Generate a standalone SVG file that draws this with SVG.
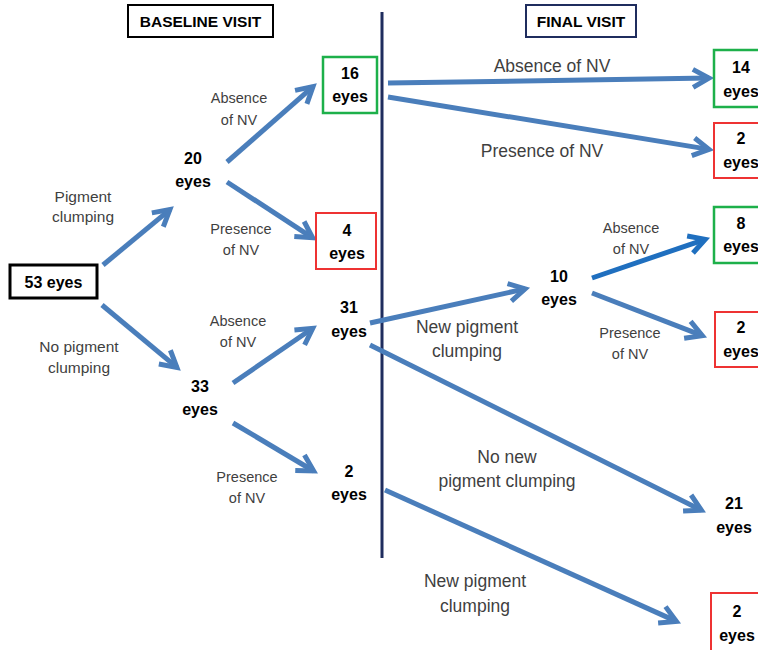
<svg xmlns="http://www.w3.org/2000/svg" width="758" height="650" viewBox="0 0 758 650">
<defs>
<marker id="ah" markerUnits="userSpaceOnUse" markerWidth="40" markerHeight="40" refX="0" refY="0" orient="auto" viewBox="-20 -20 40 40" overflow="visible">
<path d="M-16,-9 L0,0 L-16,9" fill="none" stroke="#4a7ebb" stroke-width="5" stroke-linejoin="miter"/>
</marker>
<marker id="ah2" markerUnits="userSpaceOnUse" markerWidth="40" markerHeight="40" refX="0" refY="0" orient="auto" viewBox="-20 -20 40 40" overflow="visible">
<path d="M-16,-9 L0,0 L-16,9" fill="none" stroke="#1f6fbf" stroke-width="5" stroke-linejoin="miter"/>
</marker>
</defs>
<style>
.a{stroke:#4a7ebb;stroke-width:5;fill:none;marker-end:url(#ah)}
.a2{stroke:#1f6fbf;stroke-width:5;fill:none;marker-end:url(#ah2)}
.n{font-family:"Liberation Sans",Arial,sans-serif;font-weight:bold;font-size:16px;fill:#000;text-anchor:middle}
.h{font-family:"Liberation Sans",Arial,sans-serif;font-weight:bold;font-size:15.5px;fill:#000;text-anchor:middle}
.l{font-family:"Liberation Sans",Arial,sans-serif;font-size:17.5px;fill:#3f3f3f;text-anchor:middle}
.s{font-family:"Liberation Sans",Arial,sans-serif;font-size:14.5px;fill:#3f3f3f;text-anchor:middle}
.m{font-family:"Liberation Sans",Arial,sans-serif;font-size:15.5px;fill:#3f3f3f;text-anchor:middle}
.g{fill:#fff;stroke:#1db04a;stroke-width:2.5}
.r{fill:#fff;stroke:#ee3333;stroke-width:2}
</style>
<rect width="758" height="650" fill="#fff"/>
<line x1="382" y1="12" x2="382" y2="558" stroke="#1f2d5e" stroke-width="3"/>
<g id="baseline-header"><rect x="128" y="5" width="145" height="32" fill="#fff" stroke="#000" stroke-width="2"/><text class="h" x="200.5" y="27">BASELINE VISIT</text></g>
<g id="final-header"><rect x="526" y="5" width="110" height="32" fill="#fff" stroke="#1f2d5e" stroke-width="2"/><text class="h" x="581" y="27">FINAL VISIT</text></g>
<g id="connectors">
<line class="a" x1="103" y1="265" x2="169.9" y2="209.6"/>
<line class="a" x1="227" y1="162" x2="313" y2="86.6"/>
<line class="a" x1="227" y1="182" x2="312.6" y2="237.8"/>
<line class="a" x1="102" y1="305" x2="176.9" y2="367.4"/>
<line class="a" x1="233" y1="383" x2="312.7" y2="328.3"/>
<line class="a" x1="233" y1="423" x2="313.6" y2="471"/>
<line class="a" x1="388" y1="83" x2="709" y2="78.1"/>
<line class="a" x1="388" y1="97" x2="709" y2="149.4"/>
<line class="a" x1="370" y1="323" x2="525.1" y2="288.9"/>
<line class="a2" x1="592" y1="278" x2="705.2" y2="239.3"/>
<line class="a" x1="592" y1="293" x2="702.3" y2="335.6"/>
<line class="a" x1="370" y1="345" x2="701.4" y2="510.2"/>
<line class="a" x1="385" y1="490" x2="676.4" y2="621.4"/>
</g>
<g id="labels">
<text class="m" x="83" y="202">Pigment</text><text class="m" x="83" y="222">clumping</text>
<text class="m" x="79" y="352">No pigment</text><text class="m" x="79" y="373">clumping</text>
<text class="s" x="239" y="103">Absence</text><text class="s" x="239" y="125">of NV</text>
<text class="s" x="241" y="234">Presence</text><text class="s" x="241" y="255">of NV</text>
<text class="s" x="238" y="326">Absence</text><text class="s" x="238" y="347">of NV</text>
<text class="s" x="247" y="482">Presence</text><text class="s" x="247" y="503">of NV</text>
<text class="l" x="552" y="72">Absence of NV</text>
<text class="l" x="542" y="157">Presence of NV</text>
<text class="s" x="631" y="233">Absence</text><text class="s" x="631" y="254">of NV</text>
<text class="s" x="630" y="338">Presence</text><text class="s" x="630" y="359">of NV</text>
<text class="l" x="467" y="333">New pigment</text><text class="l" x="467" y="357">clumping</text>
<text class="l" x="507" y="463">No new</text><text class="l" x="507" y="487">pigment clumping</text>
<text class="l" x="475" y="587">New pigment</text><text class="l" x="475" y="612">clumping</text>
</g>
<g id="n53"><rect x="10" y="265" width="87" height="33" fill="#fff" stroke="#000" stroke-width="3"/><text class="n" x="53.5" y="288">53 eyes</text></g>
<g id="n20"><text class="n" x="193" y="164">20</text><text class="n" x="193" y="187">eyes</text></g>
<g id="n33"><text class="n" x="200" y="392">33</text><text class="n" x="200" y="415">eyes</text></g>
<g id="n16"><rect class="g" x="323" y="57" width="54" height="56"/><text class="n" x="350" y="79">16</text><text class="n" x="350" y="102">eyes</text></g>
<g id="n4"><rect class="r" x="316" y="213" width="60" height="56"/><text class="n" x="347" y="236">4</text><text class="n" x="347" y="259">eyes</text></g>
<g id="n31"><text class="n" x="349" y="313">31</text><text class="n" x="349" y="337">eyes</text></g>
<g id="n2a"><text class="n" x="349" y="477">2</text><text class="n" x="349" y="500">eyes</text></g>
<g id="n10"><text class="n" x="559" y="282">10</text><text class="n" x="559" y="305">eyes</text></g>
<g id="n14"><rect class="g" x="714" y="50" width="56" height="57"/><text class="n" x="741" y="73">14</text><text class="n" x="741" y="97">eyes</text></g>
<g id="n2b"><rect class="r" x="714" y="123" width="56" height="55"/><text class="n" x="741" y="144">2</text><text class="n" x="741" y="168">eyes</text></g>
<g id="n8"><rect class="g" x="714" y="207" width="56" height="56"/><text class="n" x="741" y="229">8</text><text class="n" x="741" y="252">eyes</text></g>
<g id="n2c"><rect class="r" x="715" y="312" width="56" height="55"/><text class="n" x="741" y="333">2</text><text class="n" x="741" y="357">eyes</text></g>
<g id="n21"><text class="n" x="734" y="509">21</text><text class="n" x="734" y="533">eyes</text></g>
<g id="n2d"><rect class="r" x="711" y="593" width="56" height="70"/><text class="n" x="737" y="617">2</text><text class="n" x="737" y="641">eyes</text></g>
</svg>
